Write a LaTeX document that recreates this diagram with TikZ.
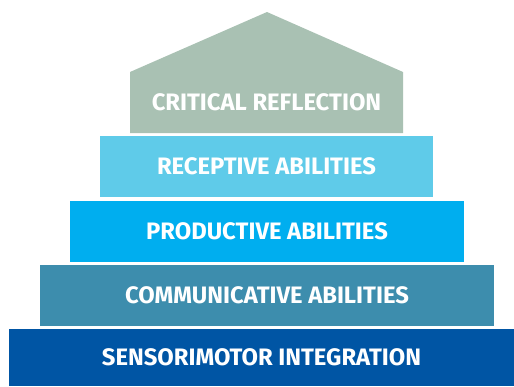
\documentclass[tikz,border=0pt]{standalone}
\usepackage{fontspec}
\setmainfont{Fira Sans}
\definecolor{critc}{HTML}{A9C1B3}
\definecolor{recc}{HTML}{5FCBE9}
\definecolor{prodc}{HTML}{00AEEF}
\definecolor{commc}{HTML}{3D8DAD}
\definecolor{sensc}{HTML}{0055A4}
\begin{document}
\begin{tikzpicture}[x=1pt,y=-1pt,
  layer/.style={anchor=north west,inner sep=0pt,outer sep=0pt,text=white,
    font=\fontsize{23.8}{24}\selectfont\bfseries,align=center,draw=none}]
\useasboundingbox (0,0) rectangle (514,386);
\fill[critc] (130,133) -- (130,72) -- (267,12) -- (403,72) -- (403,133) -- cycle;
\node[layer,anchor=center,inner sep=0pt] (crit) at (266.5,102.5) {CRITICAL REFLECTION};
\node[layer,fill=recc,minimum width=333pt,minimum height=61pt] (rec) at (100,136) {RECEPTIVE ABILITIES};
\node[layer,fill=prodc,minimum width=394pt,minimum height=61pt] (prod) at (70,201) {PRODUCTIVE ABILITIES};
\node[layer,fill=commc,minimum width=454pt,minimum height=61pt] (comm) at (40,265) {COMMUNICATIVE ABILITIES};
\node[layer,fill=sensc,minimum width=505pt,minimum height=57pt] (sens) at (9,329) {SENSORIMOTOR INTEGRATION};
\end{tikzpicture}
\end{document}
